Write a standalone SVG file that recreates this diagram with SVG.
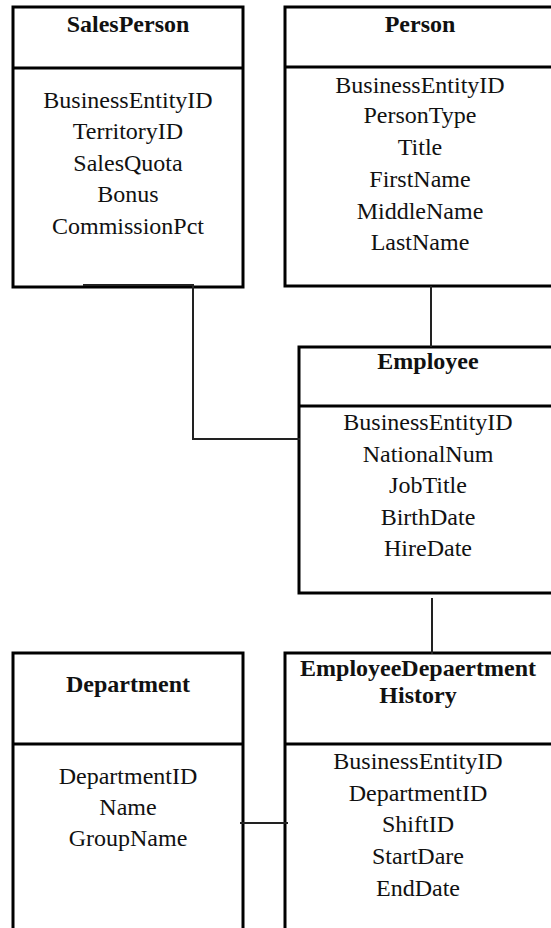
<svg xmlns="http://www.w3.org/2000/svg" width="551" height="928" viewBox="0 0 551 928">
<style>
.box{fill:#fff;stroke:#000;stroke-width:3}
.div{stroke:#000;stroke-width:3}
.t{font-family:"Liberation Serif","Times New Roman",serif;font-size:24px;font-weight:bold;fill:#111;text-anchor:middle}
.f{font-family:"Liberation Serif","Times New Roman",serif;font-size:24px;fill:#111;text-anchor:middle}
.c{fill:none;stroke:#222;stroke-width:2}
</style>
<rect width="551" height="928" fill="#fff"/>
<g id="SalesPerson">
<rect class="box" x="13" y="7" width="230" height="280"/>
<line class="div" x1="13" y1="68" x2="243" y2="68"/>
<text class="t" x="128" y="32">SalesPerson</text>
<text class="f" x="128" y="108">BusinessEntityID</text>
<text class="f" x="128" y="139">TerritoryID</text>
<text class="f" x="128" y="171">SalesQuota</text>
<text class="f" x="128" y="202">Bonus</text>
<text class="f" x="128" y="234">CommissionPct</text>
</g>
<g id="Person">
<rect class="box" x="285" y="7" width="275" height="279"/>
<line class="div" x1="285" y1="67" x2="560" y2="67"/>
<text class="t" x="420" y="32">Person</text>
<text class="f" x="420" y="93">BusinessEntityID</text>
<text class="f" x="420" y="123">PersonType</text>
<text class="f" x="420" y="155">Title</text>
<text class="f" x="420" y="187">FirstName</text>
<text class="f" x="420" y="219">MiddleName</text>
<text class="f" x="420" y="250">LastName</text>
</g>
<g id="Employee">
<rect class="box" x="299" y="347" width="261" height="246"/>
<line class="div" x1="299" y1="406" x2="560" y2="406"/>
<text class="t" x="428" y="369">Employee</text>
<text class="f" x="428" y="430">BusinessEntityID</text>
<text class="f" x="428" y="462">NationalNum</text>
<text class="f" x="428" y="493">JobTitle</text>
<text class="f" x="428" y="525">BirthDate</text>
<text class="f" x="428" y="556">HireDate</text>
</g>
<g id="Department">
<rect class="box" x="13" y="653" width="230" height="290"/>
<line class="div" x1="13" y1="744" x2="243" y2="744"/>
<text class="t" x="128" y="692">Department</text>
<text class="f" x="128" y="784">DepartmentID</text>
<text class="f" x="128" y="815">Name</text>
<text class="f" x="128" y="846">GroupName</text>
</g>
<g id="EmployeeDepartmentHistory">
<rect class="box" x="285" y="653" width="275" height="290"/>
<line class="div" x1="285" y1="744" x2="560" y2="744"/>
<text class="t" x="418" y="676">EmployeeDepaertment</text>
<text class="t" x="418" y="703">History</text>
<text class="f" x="418" y="769">BusinessEntityID</text>
<text class="f" x="418" y="801">DepartmentID</text>
<text class="f" x="418" y="832">ShiftID</text>
<text class="f" x="418" y="864">StartDare</text>
<text class="f" x="418" y="896">EndDate</text>
</g>
<g id="connectors">
<polyline class="c" points="83,285 193,285 193,439 300,439"/>
<line class="c" x1="431" y1="286" x2="431" y2="347"/>
<line class="c" x1="432" y1="598" x2="432" y2="654"/>
<line class="c" x1="240" y1="823" x2="288" y2="823"/>
</g>
</svg>
